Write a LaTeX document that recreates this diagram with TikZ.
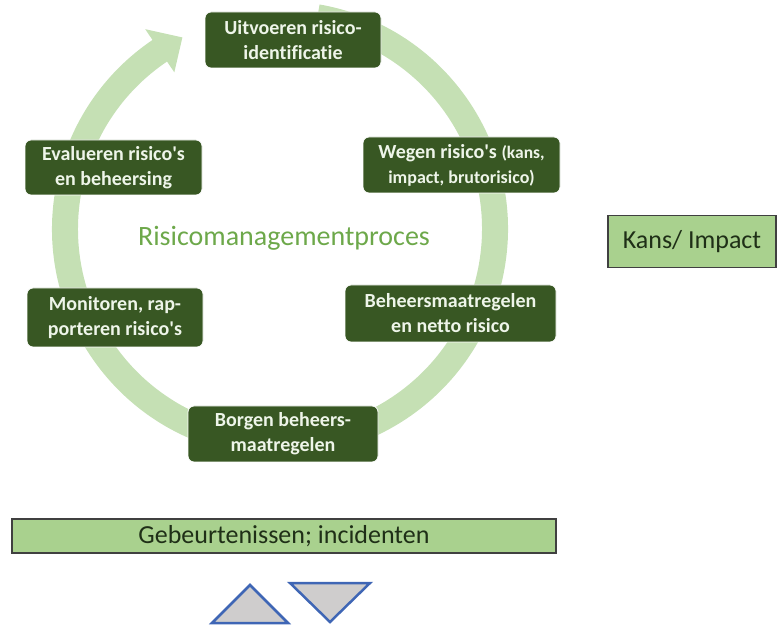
\documentclass[tikz,border=0pt]{standalone}
\usepackage{fontspec}
\setmainfont{Carlito}[Ligatures={NoCommon}]
\usetikzlibrary{calc}
\definecolor{arcgreen}{HTML}{C5E0B4}
\definecolor{dkgreen}{HTML}{385723}
\definecolor{boxtext}{HTML}{EEF5E9}
\definecolor{titlegreen}{HTML}{6DA84A}
\definecolor{lgreen}{HTML}{A9D18E}
\definecolor{lbtext}{HTML}{1F2F17}
\definecolor{triblue}{HTML}{3F66B5}
\definecolor{trigray}{HTML}{CFCDCD}
\newcommand{\apo}{\textquotesingle}
\tikzset{
  stepbox/.style={rounded corners=6pt, fill=dkgreen, draw=white, line width=0.8pt,
    text=boxtext, align=center, inner sep=0pt,
    font=\fontsize{20}{25}\selectfont\bfseries},
  lgbox/.style={fill=lgreen, draw=black!75, line width=1.5pt, text=lbtext,
    align=center, inner sep=0pt, font=\fontsize{26}{30}\selectfont},
  tri/.style={fill=trigray, draw=triblue, line width=2.5pt, line join=miter}
}
\begin{document}
\begin{tikzpicture}[x=1pt,y=1pt]
\useasboundingbox (0,0) rectangle (778,626);
% circular arrow
\coordinate (c) at (280,397);
\fill[arcgreen] ($(c)+(80:228)$) arc[start angle=80, end angle=-236, radius=228]
  -- ($(c)+(124:241)$) -- ($(c)+(117:215)$) -- ($(c)+(124:189)$)
  -- ($(c)+(124:202)$) arc[start angle=-236, end angle=80, radius=202] -- cycle;
% step boxes
\node[stepbox, minimum width=176pt, minimum height=56pt] (s1) at (293,586) {Uitvoeren risico-\\identificatie};
\node[stepbox, minimum width=197pt, minimum height=56pt] (s2) at (461.5,461) {Wegen risico\apo s {\fontsize{17.5}{25}\selectfont (kans,}\\{\fontsize{18}{22}\selectfont impact, brutorisico)}};
\node[stepbox, minimum width=211pt, minimum height=57pt] (s3) at (450.5,312.5) {Beheersmaatregelen\\en netto risico};
\node[stepbox, minimum width=190pt, minimum height=56pt] (s4) at (283,192) {Borgen beheers-\\maatregelen};
\node[stepbox, minimum width=176pt, minimum height=59pt] (s5) at (115,308.5) {Monitoren, rap-\\porteren risico\apo s};
\node[stepbox, minimum width=177pt, minimum height=55pt] (s6) at (113.5,458.5) {Evalueren risico\apo s\\en beheersing};
% title
\node[text=titlegreen, font=\fontsize{28}{32}\selectfont] (title) at (284,388) {Risicomanagementproces};
% side boxes
\node[lgbox, minimum width=168pt, minimum height=52pt] (kans) at (692,384.5) {Kans/ Impact};
\node[lgbox, minimum width=544pt, minimum height=34pt] (geb) at (284,90) {Gebeurtenissen; incidenten};
% triangles
\coordinate (u1) at (212,3); \coordinate (u2) at (288,3); \coordinate (u3) at (250,41);
\coordinate (d1) at (290,43); \coordinate (d2) at (370,43); \coordinate (d3) at (330,4);
\draw[tri] (u1) -- (u2) -- (u3) -- cycle;
\draw[tri] (d1) -- (d2) -- (d3) -- cycle;
\end{tikzpicture}
\end{document}
